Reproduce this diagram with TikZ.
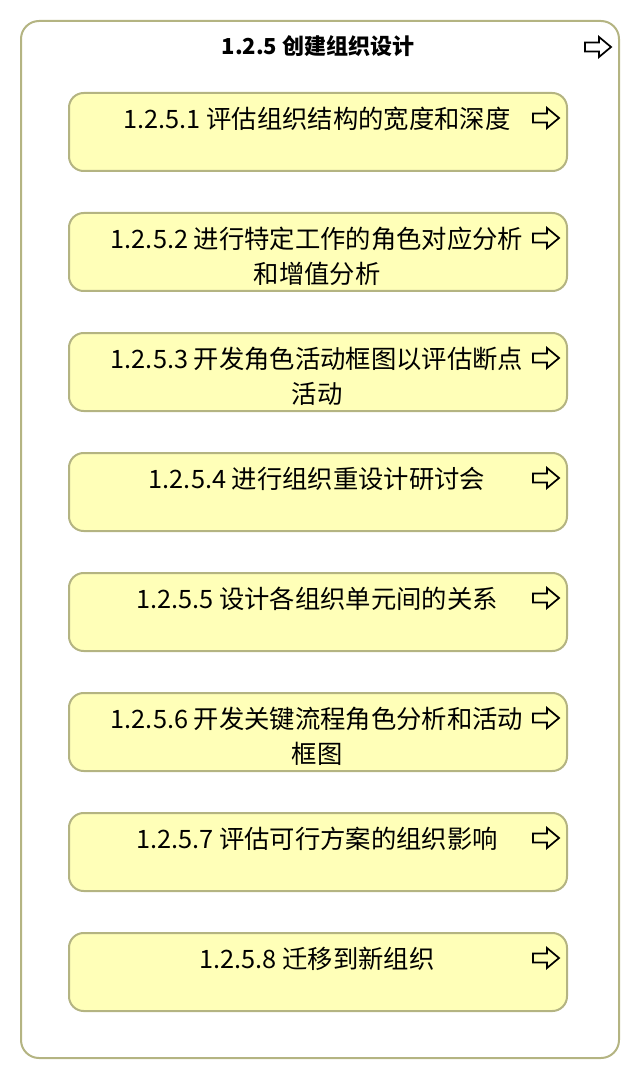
\documentclass[tikz,border=0pt]{standalone}
\usepackage{fontspec}
\setmainfont{Noto Sans CJK SC}
\usepackage{tikz}
\usetikzlibrary{calc}

\definecolor{olivedge}{HTML}{B4B482}
\definecolor{notefill}{HTML}{FFFFB8}

\tikzset{
  linkarrow/.pic={
    \draw[line width=1.3pt,line join=miter]
      (0,-4.5) -- (14,-4.5) -- (14,-10) -- (26,0) -- (14,10) -- (14,4.5) -- (0,4.5) -- cycle;
  }
}

\begin{document}
\begin{tikzpicture}[x=0.75pt,y=-0.75pt,
  outer box/.style={draw=olivedge,line width=1.5pt,rounded corners=13.5pt},
  task box/.style={draw=olivedge,fill=notefill,line width=1.5pt,rounded corners=11pt,
    minimum width=373.5pt,minimum height=58.5pt,inner sep=0pt},
  task text/.style={anchor=north,align=center,inner sep=0pt,
    font=\fontsize{19pt}{26.25pt}\selectfont},
  title text/.style={inner sep=0pt,font=\bfseries\fontsize{16.5pt}{20pt}\selectfont}]

\useasboundingbox (0,0) rectangle (640,1080);

% frame of the whole process
\draw[outer box] (21,21) rectangle (619,1058);
\node[title text](T) at (318,46) {1.2.5 创建组织设计};
\pic at (585,47) {linkarrow};

% sub-tasks
\node[task box](B1) at (318,132) {};
\node[task box](B2) at (318,252) {};
\node[task box](B3) at (318,372) {};
\node[task box](B4) at (318,492) {};
\node[task box](B5) at (318,612) {};
\node[task box](B6) at (318,732) {};
\node[task box](B7) at (318,852) {};
\node[task box](B8) at (318,972) {};

\node[task text](T1) at (317,107) {1.2.5.1 评估组织结构的宽度和深度};
\node[task text](T2) at (317,227) {1.2.5.2 进行特定工作的角色对应分析\\和增值分析};
\node[task text](T3) at (317,347) {1.2.5.3 开发角色活动框图以评估断点\\活动};
\node[task text](T4) at (317,467) {1.2.5.4 进行组织重设计研讨会};
\node[task text](T5) at (317,587) {1.2.5.5 设计各组织单元间的关系};
\node[task text](T6) at (317,707) {1.2.5.6 开发关键流程角色分析和活动\\框图};
\node[task text](T7) at (317,827) {1.2.5.7 评估可行方案的组织影响};
\node[task text](T8) at (317,947) {1.2.5.8 迁移到新组织};

\pic at (533,118) {linkarrow};
\pic at (533,238) {linkarrow};
\pic at (533,358) {linkarrow};
\pic at (533,478) {linkarrow};
\pic at (533,598) {linkarrow};
\pic at (533,718) {linkarrow};
\pic at (533,838) {linkarrow};
\pic at (533,958) {linkarrow};
\end{tikzpicture}
\end{document}
